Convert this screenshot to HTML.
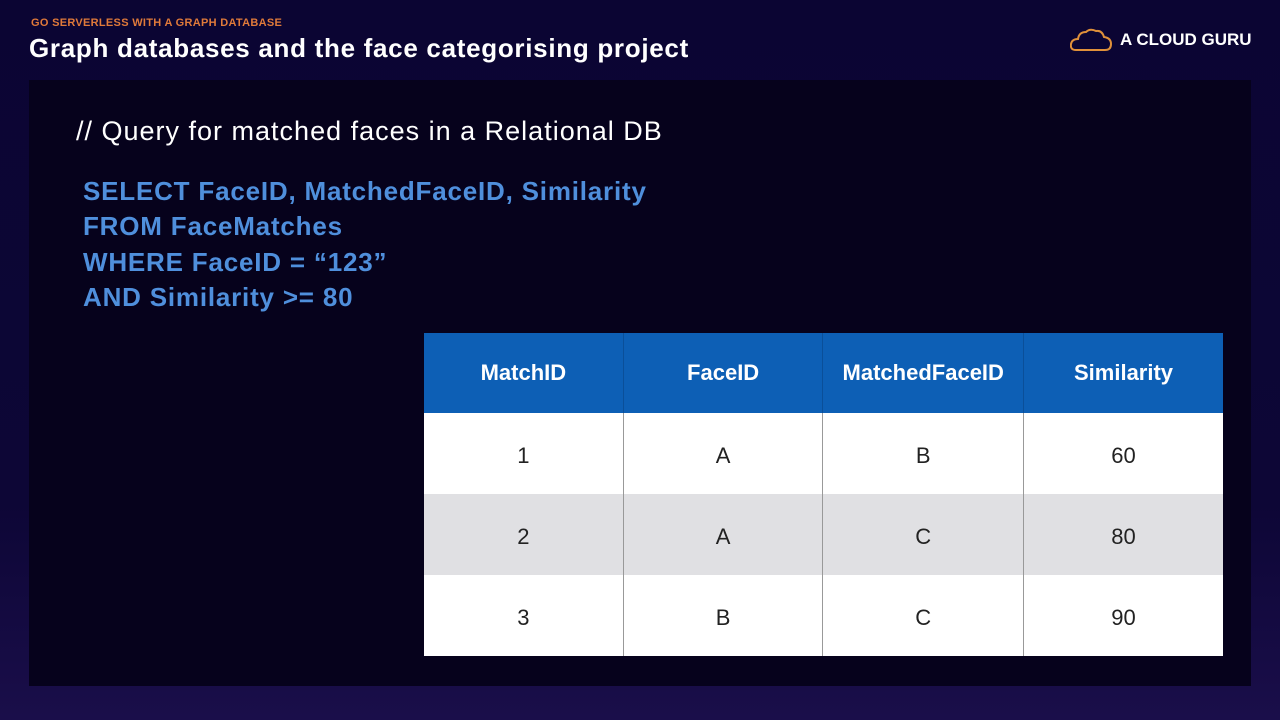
<!DOCTYPE html>
<html><head><style>
body{margin:0;width:1280px;height:720px;overflow:hidden;background:linear-gradient(#0b0533 0%,#0d0636 70%,#1a0e4a 100%);font-family:"Liberation Sans",sans-serif;position:relative}
.sub{position:absolute;left:31px;top:17px;font-size:11px;font-weight:bold;color:#e07a3a;letter-spacing:0.3px}
.title{position:absolute;left:29px;top:33px;font-size:26px;font-weight:bold;color:#fff;letter-spacing:0.7px}
.logo{position:absolute;left:1070px;top:28px;display:flex;align-items:center;gap:8px;color:#fff;font-weight:bold;font-size:17px}
.panel{position:absolute;left:29px;top:80px;width:1222px;height:606px;background:#06021c}
.c{position:absolute;left:76px;top:116px;font-size:27px;color:#fff;letter-spacing:1.0px}
.q{position:absolute;left:83px;top:174px;font-size:26px;font-weight:bold;color:#4f8fdc;line-height:35.3px;letter-spacing:0.8px}
table{position:absolute;left:424px;top:333px;width:799px;border-collapse:collapse;font-size:22px;text-align:center}
th{background:#0d5fb5;color:#fff;height:80px;width:200px;border-left:1px solid #0a4f99;font-weight:bold;padding:0}
td{height:81px;padding:4px 0 0;box-sizing:border-box;border-left:1px solid #999;color:#222}
tr.w td{background:#fff}tr.g td{background:#e0e0e3}
th:first-child,td:first-child{border-left:none}
</style></head><body>
<div class="sub">GO SERVERLESS WITH A GRAPH DATABASE</div>
<div class="title">Graph databases and the face categorising project</div>
<div class="logo"><svg width="42" height="24" viewBox="0 0 42 24"><path d="M6 22 Q0 22 1 16 Q2 11 8 11 Q9 4 16 4 Q20 0 26 3 Q32 2 34 9 Q41 10 41 16 Q41 22 35 22 Z" fill="none" stroke="#e0913a" stroke-width="2"/></svg>A CLOUD GURU</div>
<div class="panel"></div>
<div class="c">// Query for matched faces in a Relational DB</div>
<div class="q">SELECT FaceID, MatchedFaceID, Similarity<br>FROM FaceMatches<br>WHERE FaceID = “123”<br>AND Similarity &gt;= 80</div>
<table>
<tr><th>MatchID</th><th>FaceID</th><th>MatchedFaceID</th><th>Similarity</th></tr>
<tr class="w"><td>1</td><td>A</td><td>B</td><td>60</td></tr>
<tr class="g"><td>2</td><td>A</td><td>C</td><td>80</td></tr>
<tr class="w"><td>3</td><td>B</td><td>C</td><td>90</td></tr>
</table>
</body></html>
